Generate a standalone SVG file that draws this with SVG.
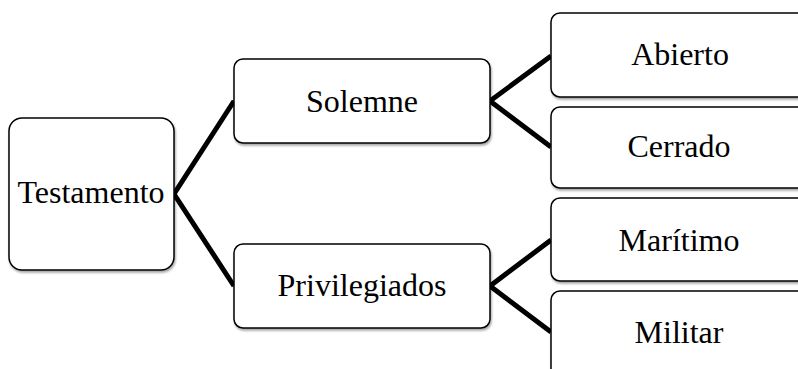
<svg xmlns="http://www.w3.org/2000/svg" width="798" height="369" viewBox="0 0 798 369">
<style>
.box{fill:#fff;stroke:#000;stroke-width:1.5;filter:url(#sh)}
.lbl{font-family:"Liberation Serif","Times New Roman",serif;font-size:32px;fill:#000;text-anchor:middle}
.con{stroke:#000;stroke-width:5;fill:none;stroke-linejoin:miter}
</style>
<defs>
<filter id="sh" x="-10%" y="-10%" width="130%" height="130%">
<feDropShadow dx="1" dy="2" stdDeviation="1.2" flood-color="#000" flood-opacity="0.35"/>
</filter>
</defs>
<rect width="798" height="369" fill="#fff"/>
<g id="connectors">
<path class="con" d="M234,101 L174,194 L234,286"/>
<path class="con" d="M551,56 L490,101 L551,147"/>
<path class="con" d="M551,240 L490,286 L551,332"/>
</g>
<g id="testamento">
<rect class="box" x="9" y="118" width="165" height="152" rx="13"/>
<text class="lbl" x="91" y="203">Testamento</text>
</g>
<g id="solemne">
<rect class="box" x="234" y="59" width="256" height="84" rx="9"/>
<text class="lbl" x="362" y="112">Solemne</text>
</g>
<g id="privilegiados">
<rect class="box" x="234" y="244" width="256" height="84" rx="9"/>
<text class="lbl" x="362" y="296">Privilegiados</text>
</g>
<g id="abierto">
<rect class="box" x="551" y="13" width="260" height="84" rx="9"/>
<text class="lbl" x="680" y="65">Abierto</text>
</g>
<g id="cerrado">
<rect class="box" x="551" y="107" width="260" height="81" rx="9"/>
<text class="lbl" x="679" y="157">Cerrado</text>
</g>
<g id="maritimo">
<rect class="box" x="551" y="198" width="260" height="83" rx="9"/>
<text class="lbl" x="679" y="251">Marítimo</text>
</g>
<g id="militar">
<rect class="box" x="551" y="291" width="260" height="90" rx="9"/>
<text class="lbl" x="679" y="343">Militar</text>
</g>
</svg>
